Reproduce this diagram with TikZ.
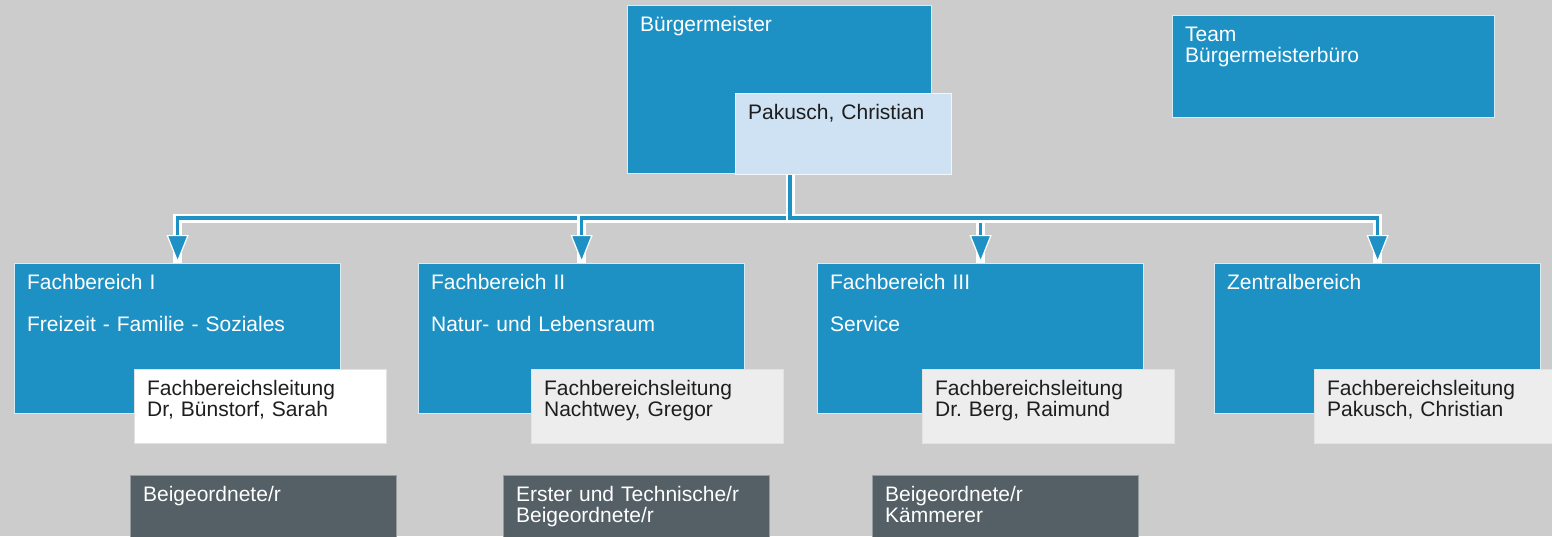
\documentclass[tikz,border=0pt]{standalone}
\usepackage{fontspec}
\setmainfont{Liberation Sans}
\usetikzlibrary{arrows.meta}

\definecolor{hintergrund}{RGB}{204,204,204}
\definecolor{fbblau}{RGB}{30,145,196}
\definecolor{blaurand}{RGB}{214,236,246}
\definecolor{hellblau}{RGB}{207,226,243}
\definecolor{hellgrau}{RGB}{237,237,237}
\definecolor{hellrand}{RGB}{226,226,226}
\definecolor{dunkelgrau}{RGB}{84,95,102}
\definecolor{dunkelrand}{RGB}{150,156,160}
\definecolor{schrift}{RGB}{30,30,30}

\begin{document}
\frenchspacing
\begin{tikzpicture}[x=0.5pt, y=-0.5pt,
			font=\fontsize{10.5}{10.9}\selectfont,
			kasten/.style={draw, line width=0.6pt, anchor=north west, align=left, inner xsep=6.25pt, inner ysep=5pt, text height=7.7pt},
			bereich/.style={kasten, draw=blaurand, fill=fbblau, text=white},
			fachbereich/.style={bereich, text width=150.5pt, text depth=57.3pt},
			leitung/.style={kasten, draw=hellrand, fill=hellgrau, text=schrift, text width=113.5pt, text depth=19.3pt},
			dezernat/.style={kasten, draw=dunkelrand, fill=dunkelgrau, text=white, text width=120.5pt, text depth=17.3pt},
			link/.style={draw=fbblau, line width=1.75pt, -{Triangle[width=11pt, length=14pt, line width=0.6pt, color=white, fill=fbblau]}, preaction={draw=white, line width=4.5pt, -}},
		]

		\fill[hintergrund] (0,0) rectangle (1552,536);
		\useasboundingbox (0,0) rectangle (1552,536);

		\node[bereich, text width=139.5pt, text depth=66.3pt] (buergermeister) at (627,5) {Bürgermeister};
		\node[kasten, draw=white!70!hellblau, fill=hellblau, text=schrift, text width=95.5pt, text depth=22.8pt] (pakusch) at (735,93) {Pakusch, Christian};
		\node[bereich, text width=148.5pt, text depth=33.3pt] (team-buero) at (1172,15) {Team\\Bürgermeisterbüro};

		\node[fachbereich] (fb-1) at (14,263) {Fachbereich I\\[10.25pt]Freizeit - Familie - Soziales};
		\node[fachbereich] (fb-2) at (418,263) {Fachbereich II\\[10.25pt]Natur- und Lebensraum};
		\node[fachbereich] (fb-3) at (817,263) {Fachbereich III\\[10.25pt]Service};
		\node[fachbereich] (zentral) at (1214,263) {Zentralbereich};

		\node[leitung, fill=white] (leitung-1) at (134,369) {Fachbereichsleitung\\Dr, Bünstorf, Sarah};
		\node[leitung] (leitung-2) at (531,369) {Fachbereichsleitung\\Nachtwey, Gregor};
		\node[leitung] (leitung-3) at (922,369) {Fachbereichsleitung\\Dr. Berg, Raimund};
		\node[leitung] (leitung-4) at (1314,369) {Fachbereichsleitung\\Pakusch, Christian};

		\node[dezernat] (beigeordnete-1) at (130,475) {Beigeordnete/r};
		\node[dezernat] (beigeordnete-2) at (503,475) {Erster und Technische/r\\Beigeordnete/r};
		\node[dezernat] (beigeordnete-3) at (872,475) {Beigeordnete/r\\Kämmerer};

		\coordinate (abzweig) at (790,218);
		\draw[link] (abzweig |- pakusch.south) -- (abzweig) -| (fb-1.north);
		\draw[link] (abzweig |- pakusch.south) -- (abzweig) -| (fb-2.north);
		\draw[link] (abzweig |- pakusch.south) -- (abzweig) -| (fb-3.north);
		\draw[link] (abzweig |- pakusch.south) -- (abzweig) -| (zentral.north);

\end{tikzpicture}
\end{document}
